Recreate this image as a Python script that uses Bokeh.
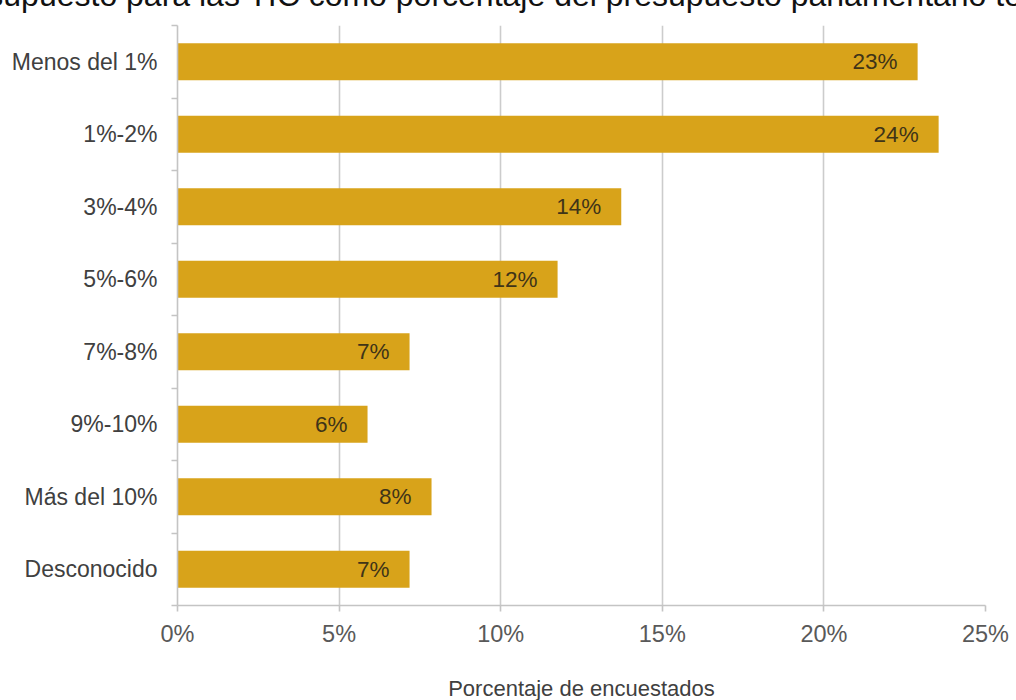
from bokeh.plotting import figure
from bokeh.models import Range1d, FixedTicker, PrintfTickFormatter, ColumnDataSource, Title
from bokeh.core.properties import value
from bokeh.embed import file_html
from bokeh.resources import INLINE

categories = ["Menos del 1%", "1%-2%", "3%-4%", "5%-6%", "7%-8%", "9%-10%", "Más del 10%", "Desconocido"]
percent = [22.9, 23.55, 13.73, 11.76, 7.18, 5.88, 7.86, 7.18]
bar_labels = ["23%", "24%", "14%", "12%", "7%", "6%", "8%", "7%"]
x_ticks = [0, 5, 10, 15, 20, 25]
title_text = "Presupuesto para las TIC como porcentaje del presupuesto parlamentario total"
x_title = "Porcentaje de encuestados"

FONT = "Liberation Sans"
BAR = "#D8A31A"

centers = [i + 0.5 for i in range(len(categories))]
src = ColumnDataSource(dict(y=centers, x=percent, lab=bar_labels, cat=categories))

p = figure(
    width=1016, height=700,
    frame_width=808, frame_height=580,
    min_border_left=177, min_border_right=31, min_border_top=25, min_border_bottom=95,
    x_range=Range1d(0, 25), y_range=Range1d(len(categories), 0),
    output_backend="svg", toolbar_location=None,
)
p.outline_line_color = None
p.background_fill_color = "white"
p.border_fill_color = "white"

p.hbar(y="y", right="x", left=0, height=0.51, source=src, fill_color=BAR, line_color=None)
p.text(x="x", y="y", text="lab", source=src, x_offset=-20, text_align="right",
       text_baseline="middle", text_font=value(FONT), text_font_size="22.5px", text_color="#3f3418")

# grid
p.ygrid.grid_line_color = None
p.xgrid.ticker = FixedTicker(ticks=x_ticks)
p.xgrid.grid_line_color = "#cccccc"
p.xgrid.grid_line_width = 1.6

# x axis
xa = p.xaxis[0]
xa.ticker = FixedTicker(ticks=x_ticks)
xa.formatter = PrintfTickFormatter(format="%d%%")
xa.axis_line_color = "#c4c4c4"
xa.axis_line_width = 1.6
xa.major_tick_line_color = "#c4c4c4"
xa.major_tick_line_width = 1.6
xa.major_tick_out = 6
xa.major_tick_in = 0
xa.minor_tick_line_color = None
xa.major_label_standoff = 9
xa.major_label_text_font = FONT
xa.major_label_text_font_size = "23.5px"
xa.major_label_text_color = "#595959"
xa.axis_label = x_title
xa.axis_label_text_font = FONT
xa.axis_label_text_font_size = "22px"
xa.axis_label_text_font_style = "normal"
xa.axis_label_text_color = "#404040"
xa.axis_label_standoff = 26

# y axis
ya = p.yaxis[0]
ya.ticker = FixedTicker(ticks=centers, minor_ticks=list(range(len(categories) + 1)))
ya.major_label_overrides = {c: n for c, n in zip(centers, categories)}
ya.axis_line_color = "#c4c4c4"
ya.axis_line_width = 1.6
ya.major_tick_line_color = None
ya.major_tick_out = 0
ya.major_tick_in = 0
ya.minor_tick_line_color = "#c4c4c4"
ya.minor_tick_line_width = 1.6
ya.minor_tick_out = 6
ya.minor_tick_in = 0
ya.major_label_standoff = 14
ya.major_label_text_font = FONT
ya.major_label_text_font_size = "23px"
ya.major_label_text_color = "#404040"

# cropped title at the very top (a blank second line lifts the first one to the page edge)
p.add_layout(Title(text=title_text + "\n\u00a0", align="left", offset=-240, standoff=-50,
                   vertical_align="top", text_font=FONT, text_font_size="32px",
                   text_font_style="normal", text_color="#111111"), "above")

open("out.html", "w").write(file_html(p, INLINE))
